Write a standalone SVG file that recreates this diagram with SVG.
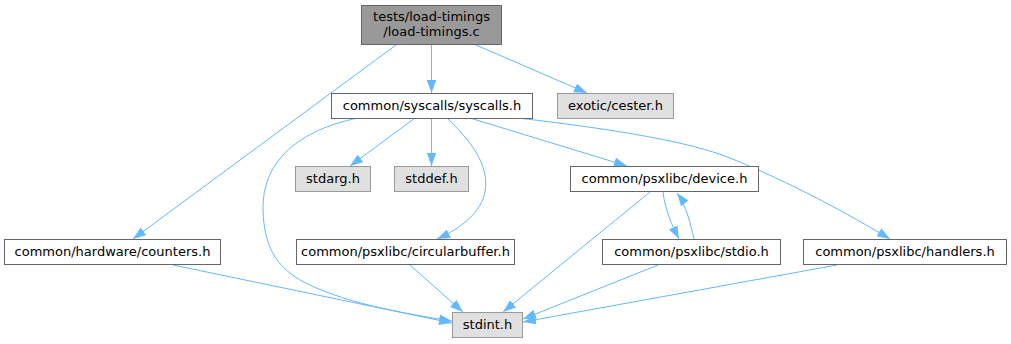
<svg xmlns="http://www.w3.org/2000/svg" width="1011" height="344" viewBox="0 0 1011 344">
<style>
.n rect{fill:#ffffff;stroke:#666666;stroke-width:1}
.g rect{fill:#e0e0e0;stroke:#999999;stroke-width:1}
.r rect{fill:#999999;stroke:#666666;stroke-width:1}
text{font-family:"DejaVu Sans","Liberation Sans",sans-serif;font-size:13px;fill:#000000;text-anchor:middle}
.e path{fill:none;stroke:#63b8ff;stroke-width:1;marker-end:url(#a)}
</style>
<defs>
<marker id="a" markerWidth="14" markerHeight="10" refX="13" refY="5" orient="auto" markerUnits="userSpaceOnUse">
<path d="M0,0.3 L13,5 L0,9.7 z" fill="#63b8ff" stroke="none"/>
</marker>
</defs>
<g id="edges" class="e">
<path d="M431.5,45 L431.5,93"/>
<path d="M476,45 L587,93"/>
<path d="M396,45 L133,239"/>
<path d="M415,118 L350,166"/>
<path d="M431.5,118 L431.5,166"/>
<path d="M447,118 C470,140 490,165 485,192 C481,212 462,228 437,239"/>
<path d="M358,118 C300,130 262,160 263,210 C264,245 275,265 300,280 C340,302 400,313 452,321"/>
<path d="M470,118 L627,166"/>
<path d="M518,118 C620,130 690,142 730,158 C790,182 850,215 890,239"/>
<path d="M173,265 L452,323"/>
<path d="M410,265 L463,312"/>
<path d="M650,192 L503,312"/>
<path d="M663,192 C665,210 672,225 679,239"/>
<path d="M694,239 C690,222 686,205 677,193"/>
<path d="M658,265 L523,319"/>
<path d="M837,265 L523,322"/>
</g>
<g id="root" class="r"><rect x="361.5" y="5.5" width="140" height="39"/><text x="431.5" y="21">tests/load-timings</text><text x="431.5" y="36">/load-timings.c</text></g>
<g id="syscalls" class="n"><rect x="331.5" y="93.5" width="201" height="25"/><text x="432" y="110">common/syscalls/syscalls.h</text></g>
<g id="cester" class="g"><rect x="557.5" y="93.5" width="116" height="25"/><text x="615.5" y="110">exotic/cester.h</text></g>
<g id="stdarg" class="g"><rect x="295.5" y="166.5" width="75" height="25"/><text x="333" y="183">stdarg.h</text></g>
<g id="stddef" class="g"><rect x="394.5" y="166.5" width="74" height="25"/><text x="431.5" y="183">stddef.h</text></g>
<g id="device" class="n"><rect x="570.5" y="166.5" width="188" height="25"/><text x="664.5" y="183">common/psxlibc/device.h</text></g>
<g id="counters" class="n"><rect x="4.5" y="239.5" width="216" height="25"/><text x="112.5" y="256">common/hardware/counters.h</text></g>
<g id="circularbuffer" class="n"><rect x="296.5" y="239.5" width="218" height="25"/><text x="405.5" y="256">common/psxlibc/circularbuffer.h</text></g>
<g id="stdio" class="n"><rect x="602.5" y="239.5" width="178" height="25"/><text x="691.5" y="256">common/psxlibc/stdio.h</text></g>
<g id="handlers" class="n"><rect x="803.5" y="239.5" width="203" height="25"/><text x="905" y="256">common/psxlibc/handlers.h</text></g>
<g id="stdint" class="g"><rect x="452.5" y="312.5" width="70" height="25"/><text x="487.5" y="329">stdint.h</text></g>
</svg>
